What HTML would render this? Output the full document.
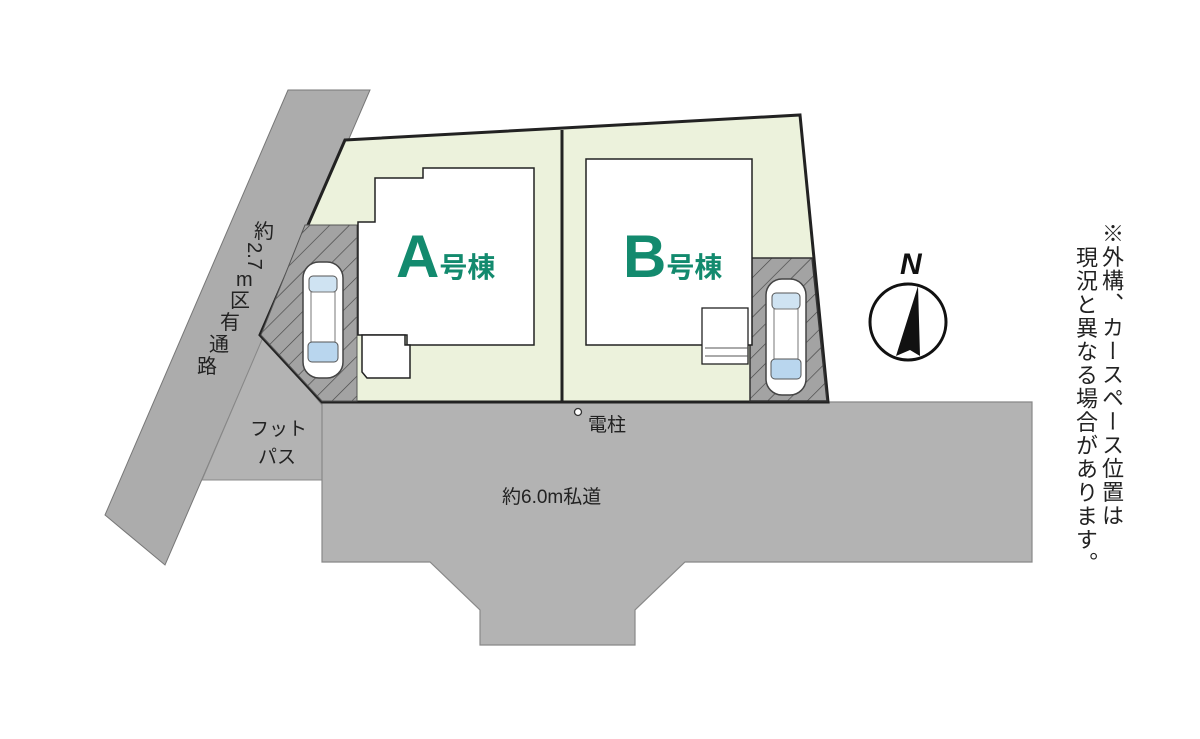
<!DOCTYPE html>
<html><head><meta charset="utf-8"><style>
body{margin:0;background:#fff;width:1200px;height:739px;overflow:hidden;position:relative;font-family:"Liberation Sans","Noto Sans CJK JP",sans-serif}
.t{position:absolute;color:#222;font-size:19px;white-space:nowrap}
.c{position:absolute;color:#222;font-size:20px;line-height:20px;white-space:nowrap}
.v{writing-mode:vertical-rl;position:absolute;font-size:22px;color:#222;line-height:25px;white-space:nowrap;letter-spacing:1.5px}
</style></head><body>
<svg width="1200" height="739" style="position:absolute;left:0;top:0">
<defs>
<pattern id="h" patternUnits="userSpaceOnUse" width="14" height="14" patternTransform="rotate(45)">
<rect width="14" height="14" fill="#a3a3a3"/><line x1="0" y1="0" x2="0" y2="14" stroke="#444" stroke-width="1.3"/>
</pattern>
<g id="car">
<rect x="-20" y="-58" width="40" height="116" rx="16" fill="#fff" stroke="#444" stroke-width="1.5"/>
<rect x="-14" y="-44" width="28" height="16" rx="4" fill="#cfe3f2" stroke="#555"/>
<rect x="-12" y="-28" width="24" height="50" fill="#fff" stroke="#777"/>
<rect x="-15" y="22" width="30" height="20" rx="4" fill="#b9d6ee" stroke="#555"/>
</g>
</defs>
<polygon points="288,90 370,90 165,565 105,515" fill="#acacac" stroke="#777" stroke-width="1"/>
<polygon points="264,335 322,405 322,480 202,480" fill="#b3b3b3" stroke="#888" stroke-width="1"/>
<polygon points="322,402 1032,402 1032,562 685,562 635,610 635,645 480,645 480,610 430,562 322,562" fill="#b3b3b3" stroke="#888" stroke-width="1.2"/>
<polygon points="345,140 800,115 828,402 322,402 260,335" fill="#ecf2dc" stroke="#222" stroke-width="3"/>
<line x1="562" y1="130" x2="562" y2="402" stroke="#222" stroke-width="3"/>
<polygon points="305,225 357,225 357,401 322,401 261,335" fill="url(#h)" stroke="#555"/>
<polygon points="750,258 812,258 827,401 750,401" fill="url(#h)" stroke="#333" stroke-width="1.5"/>
<polygon points="375,178 423,178 423,168 534,168 534,345 407,345 407,335 358,335 358,222 375,222" fill="#fff" stroke="#222" stroke-width="1.5"/>
<polygon points="362,335 405,335 405,345 410,345 410,378 367,378 362,372" fill="#fff" stroke="#222" stroke-width="1.5"/>
<rect x="586" y="159" width="166" height="186" fill="#fff" stroke="#222" stroke-width="1.5"/>
<rect x="702" y="308" width="46" height="56" fill="#fff" stroke="#222" stroke-width="1.3"/>
<line x1="705" y1="348" x2="748" y2="348" stroke="#555"/><line x1="705" y1="356" x2="748" y2="356" stroke="#555"/>
<use href="#car" transform="translate(323,320)"/>
<use href="#car" transform="translate(786,337)"/>
<circle cx="578" cy="412" r="3.5" fill="#fff" stroke="#333" stroke-width="1.3"/>
<circle cx="908" cy="322" r="38" fill="#fff" stroke="#111" stroke-width="3"/>
<polygon points="918,286 896,356 910,350 920,356" fill="#111"/>
</svg>
<div class="t" style="left:396px;top:222px;font-size:60px;font-weight:bold;color:#138a6e">A<span style="font-size:28px">号棟</span></div>
<div class="t" style="left:623px;top:222px;font-size:60px;font-weight:bold;color:#138a6e">B<span style="font-size:28px">号棟</span></div>
<div class="t" style="left:900px;top:248px;font-size:30px;font-weight:bold;font-style:italic;color:#111">N</div>
<div class="t" style="left:588px;top:410px">電柱</div>
<div class="t" style="left:502px;top:482px">約6.0m私道</div>
<div class="t" style="left:250px;top:414px">フット</div>
<div class="t" style="left:258px;top:442px">パス</div>
<div class="c" style="left:254px;top:222px">約</div>
<div class="c" style="left:240px;top:246px;transform:rotate(90deg)">2.7</div>
<div class="c" style="left:236px;top:270px">m</div>
<div class="c" style="left:230px;top:291px">区</div>
<div class="c" style="left:220px;top:313px">有</div>
<div class="c" style="left:209px;top:335px">通</div>
<div class="c" style="left:197px;top:357px">路</div>
<div class="v" style="left:1099px;top:222px">※外構、カースペース位置は</div>
<div class="v" style="left:1073px;top:246px">現況と異なる場合があります。</div>
</body></html>
